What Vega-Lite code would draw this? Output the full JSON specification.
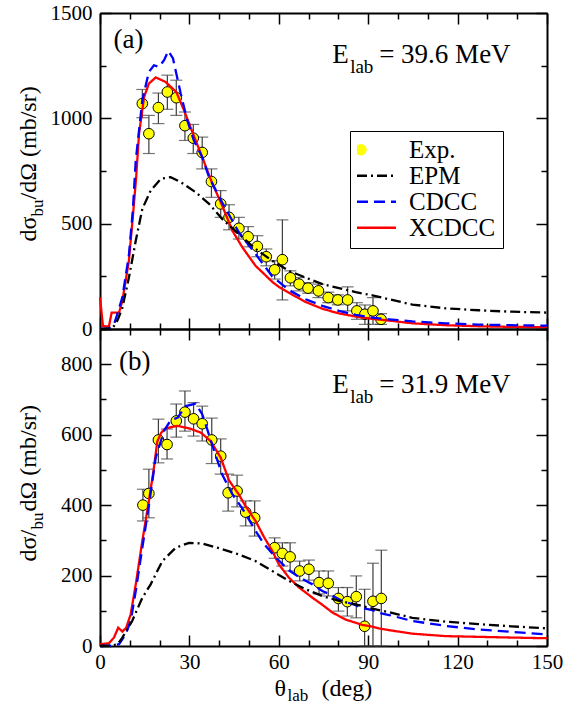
{
  "$schema": "https://vega.github.io/schema/vega-lite/v6.json",
  "padding": {"left": 16, "top": 2, "right": 0, "bottom": 0},
  "autosize": {"type": "pad"},
  "spacing": 0,
  "bounds": "flush",
  "resolve": {
    "scale": {"x": "independent", "y": "independent", "color": "independent", "strokeDash": "independent"},
    "axis": {"x": "independent", "y": "independent"},
    "legend": {"color": "independent", "strokeDash": "independent"}
  },
  "datasets": {
    "expA": [
      {"t": 14.2, "v": 1070, "lo": 1003, "hi": 1137},
      {"t": 16.4, "v": 927, "lo": 833, "hi": 1014},
      {"t": 19.6, "v": 1051, "lo": 975, "hi": 1120},
      {"t": 22.6, "v": 1125, "lo": 1043, "hi": 1205},
      {"t": 25.6, "v": 1098, "lo": 1014, "hi": 1181},
      {"t": 28.5, "v": 965, "lo": 895, "hi": 1030},
      {"t": 31.3, "v": 906, "lo": 833, "hi": 971},
      {"t": 34.3, "v": 838, "lo": 760, "hi": 911},
      {"t": 37.4, "v": 700, "lo": 625, "hi": 760},
      {"t": 40.5, "v": 594, "lo": 530, "hi": 657},
      {"t": 43.3, "v": 530, "lo": 471, "hi": 590},
      {"t": 46.6, "v": 478, "lo": 427, "hi": 530},
      {"t": 49.7, "v": 438, "lo": 390, "hi": 486},
      {"t": 52.8, "v": 392, "lo": 343, "hi": 443},
      {"t": 55.8, "v": 343, "lo": 300, "hi": 380},
      {"t": 58.6, "v": 281, "lo": 237, "hi": 324},
      {"t": 61.2, "v": 329, "lo": 138, "hi": 518},
      {"t": 63.9, "v": 243, "lo": 205, "hi": 276},
      {"t": 66.8, "v": 213, "lo": 181, "hi": 244},
      {"t": 69.8, "v": 194, "lo": 170, "hi": 220},
      {"t": 73.3, "v": 181, "lo": 149, "hi": 213},
      {"t": 76.6, "v": 149, "lo": 125, "hi": 175},
      {"t": 79.8, "v": 138, "lo": 115, "hi": 162},
      {"t": 83.1, "v": 138, "lo": 86, "hi": 200},
      {"t": 86.2, "v": 86, "lo": 46, "hi": 125},
      {"t": 88.9, "v": 70, "lo": 22, "hi": 114},
      {"t": 91.6, "v": 86, "lo": 22, "hi": 149},
      {"t": 94.3, "v": 46, "lo": 22, "hi": 73}
    ],
    "expB": [
      {"t": 14.4, "v": 400, "lo": 355, "hi": 445},
      {"t": 16.4, "v": 433, "lo": 364, "hi": 502},
      {"t": 19.6, "v": 585, "lo": 520, "hi": 644},
      {"t": 22.5, "v": 572, "lo": 531, "hi": 616},
      {"t": 25.6, "v": 639, "lo": 593, "hi": 687},
      {"t": 28.5, "v": 664, "lo": 610, "hi": 724},
      {"t": 31.4, "v": 645, "lo": 596, "hi": 691},
      {"t": 34.3, "v": 631, "lo": 582, "hi": 681},
      {"t": 37.5, "v": 585, "lo": 518, "hi": 647},
      {"t": 40.5, "v": 539, "lo": 488, "hi": 588},
      {"t": 43.0, "v": 435, "lo": 383, "hi": 488},
      {"t": 46.0, "v": 440, "lo": 395, "hi": 485},
      {"t": 48.9, "v": 380, "lo": 341, "hi": 412},
      {"t": 51.9, "v": 364, "lo": 312, "hi": 412},
      {"t": 58.6, "v": 279, "lo": 249, "hi": 307},
      {"t": 61.2, "v": 263, "lo": 227, "hi": 293},
      {"t": 63.8, "v": 253, "lo": 213, "hi": 293},
      {"t": 67.0, "v": 213, "lo": 185, "hi": 241},
      {"t": 70.1, "v": 218, "lo": 187, "hi": 244},
      {"t": 73.5, "v": 180, "lo": 148, "hi": 213},
      {"t": 76.6, "v": 178, "lo": 142, "hi": 213},
      {"t": 80.0, "v": 135, "lo": 99, "hi": 166},
      {"t": 83.0, "v": 126, "lo": 85, "hi": 166},
      {"t": 86.0, "v": 140, "lo": 80, "hi": 199},
      {"t": 88.8, "v": 56, "lo": 0, "hi": 161},
      {"t": 91.6, "v": 127, "lo": 0, "hi": 235},
      {"t": 94.4, "v": 135, "lo": 0, "hi": 272}
    ],
    "curvesA": [
      {"t": 0, "v": 150, "m": "XCDCC"}, {"t": 1, "v": 14, "m": "XCDCC"}, {"t": 3, "v": 12, "m": "XCDCC"}, {"t": 3.9, "v": 78, "m": "XCDCC"}, {"t": 6.4, "v": 78, "m": "XCDCC"}, {"t": 7.5, "v": 133, "m": "XCDCC"}, {"t": 9.7, "v": 324, "m": "XCDCC"}, {"t": 11, "v": 530, "m": "XCDCC"}, {"t": 12.1, "v": 713, "m": "XCDCC"}, {"t": 13.1, "v": 927, "m": "XCDCC"}, {"t": 14.8, "v": 1101, "m": "XCDCC"}, {"t": 16.4, "v": 1165, "m": "XCDCC"}, {"t": 18.7, "v": 1194, "m": "XCDCC"}, {"t": 22, "v": 1173, "m": "XCDCC"}, {"t": 25.6, "v": 1125, "m": "XCDCC"}, {"t": 28.2, "v": 1038, "m": "XCDCC"}, {"t": 31, "v": 935, "m": "XCDCC"}, {"t": 34.3, "v": 816, "m": "XCDCC"}, {"t": 37.3, "v": 705, "m": "XCDCC"}, {"t": 41, "v": 586, "m": "XCDCC"}, {"t": 44.4, "v": 467, "m": "XCDCC"}, {"t": 47.8, "v": 387, "m": "XCDCC"}, {"t": 52.2, "v": 300, "m": "XCDCC"}, {"t": 57.8, "v": 224, "m": "XCDCC"}, {"t": 60, "v": 200, "m": "XCDCC"}, {"t": 63.4, "v": 172, "m": "XCDCC"}, {"t": 69, "v": 128, "m": "XCDCC"}, {"t": 74.6, "v": 96, "m": "XCDCC"}, {"t": 80.2, "v": 74, "m": "XCDCC"}, {"t": 85.8, "v": 59, "m": "XCDCC"}, {"t": 91.4, "v": 48, "m": "XCDCC"}, {"t": 97, "v": 40, "m": "XCDCC"}, {"t": 104.8, "v": 27, "m": "XCDCC"}, {"t": 116, "v": 18, "m": "XCDCC"}, {"t": 127, "v": 13, "m": "XCDCC"}, {"t": 138, "v": 10, "m": "XCDCC"}, {"t": 150, "v": 9, "m": "XCDCC"},
      {"t": 0, "v": 0, "m": "CDCC"}, {"t": 3, "v": 3, "m": "CDCC"}, {"t": 4.7, "v": 22, "m": "CDCC"}, {"t": 5.8, "v": 70, "m": "CDCC"}, {"t": 7.5, "v": 150, "m": "CDCC"}, {"t": 9.7, "v": 350, "m": "CDCC"}, {"t": 11, "v": 560, "m": "CDCC"}, {"t": 12, "v": 800, "m": "CDCC"}, {"t": 14.2, "v": 1086, "m": "CDCC"}, {"t": 16.4, "v": 1220, "m": "CDCC"}, {"t": 18.1, "v": 1252, "m": "CDCC"}, {"t": 19.8, "v": 1244, "m": "CDCC"}, {"t": 21.5, "v": 1276, "m": "CDCC"}, {"t": 22.9, "v": 1320, "m": "CDCC"}, {"t": 24.5, "v": 1284, "m": "CDCC"}, {"t": 25.6, "v": 1213, "m": "CDCC"}, {"t": 27.1, "v": 1117, "m": "CDCC"}, {"t": 29.3, "v": 990, "m": "CDCC"}, {"t": 31.5, "v": 895, "m": "CDCC"}, {"t": 34.3, "v": 816, "m": "CDCC"}, {"t": 36.6, "v": 720, "m": "CDCC"}, {"t": 41, "v": 600, "m": "CDCC"}, {"t": 46.6, "v": 459, "m": "CDCC"}, {"t": 52.2, "v": 356, "m": "CDCC"}, {"t": 57.8, "v": 250, "m": "CDCC"}, {"t": 63.4, "v": 185, "m": "CDCC"}, {"t": 69, "v": 141, "m": "CDCC"}, {"t": 74.6, "v": 110, "m": "CDCC"}, {"t": 80.2, "v": 86, "m": "CDCC"}, {"t": 85.8, "v": 67, "m": "CDCC"}, {"t": 91.4, "v": 54, "m": "CDCC"}, {"t": 97, "v": 46, "m": "CDCC"}, {"t": 104.8, "v": 36, "m": "CDCC"}, {"t": 116, "v": 27, "m": "CDCC"}, {"t": 127, "v": 21, "m": "CDCC"}, {"t": 138, "v": 18, "m": "CDCC"}, {"t": 150, "v": 16, "m": "CDCC"},
      {"t": 0, "v": 0, "m": "EPM"}, {"t": 4, "v": 3, "m": "EPM"}, {"t": 4.7, "v": 14, "m": "EPM"}, {"t": 6, "v": 45, "m": "EPM"}, {"t": 7.5, "v": 100, "m": "EPM"}, {"t": 9.7, "v": 244, "m": "EPM"}, {"t": 12, "v": 419, "m": "EPM"}, {"t": 14.2, "v": 570, "m": "EPM"}, {"t": 17, "v": 657, "m": "EPM"}, {"t": 20.4, "v": 713, "m": "EPM"}, {"t": 23.7, "v": 721, "m": "EPM"}, {"t": 27.1, "v": 697, "m": "EPM"}, {"t": 32.1, "v": 649, "m": "EPM"}, {"t": 36.6, "v": 594, "m": "EPM"}, {"t": 41, "v": 522, "m": "EPM"}, {"t": 46.6, "v": 451, "m": "EPM"}, {"t": 52.2, "v": 380, "m": "EPM"}, {"t": 57.8, "v": 324, "m": "EPM"}, {"t": 63.4, "v": 276, "m": "EPM"}, {"t": 69, "v": 244, "m": "EPM"}, {"t": 74.6, "v": 213, "m": "EPM"}, {"t": 80.2, "v": 194, "m": "EPM"}, {"t": 85.8, "v": 175, "m": "EPM"}, {"t": 91.4, "v": 160, "m": "EPM"}, {"t": 96.4, "v": 143, "m": "EPM"}, {"t": 104.8, "v": 116, "m": "EPM"}, {"t": 116, "v": 98, "m": "EPM"}, {"t": 127, "v": 89, "m": "EPM"}, {"t": 138, "v": 82, "m": "EPM"}, {"t": 150, "v": 78, "m": "EPM"}
    ],
    "curvesB": [
      {"t": 0, "v": 5, "m": "XCDCC"}, {"t": 3, "v": 8, "m": "XCDCC"}, {"t": 4.7, "v": 24, "m": "XCDCC"}, {"t": 6.1, "v": 52, "m": "XCDCC"}, {"t": 7.5, "v": 41, "m": "XCDCC"}, {"t": 8.8, "v": 52, "m": "XCDCC"}, {"t": 10.3, "v": 90, "m": "XCDCC"}, {"t": 12, "v": 175, "m": "XCDCC"}, {"t": 14.2, "v": 298, "m": "XCDCC"}, {"t": 16.4, "v": 412, "m": "XCDCC"}, {"t": 18, "v": 500, "m": "XCDCC"}, {"t": 19.2, "v": 580, "m": "XCDCC"}, {"t": 20.5, "v": 605, "m": "XCDCC"}, {"t": 22, "v": 618, "m": "XCDCC"}, {"t": 25.9, "v": 625, "m": "XCDCC"}, {"t": 29.9, "v": 618, "m": "XCDCC"}, {"t": 33.8, "v": 606, "m": "XCDCC"}, {"t": 37.1, "v": 582, "m": "XCDCC"}, {"t": 40.5, "v": 535, "m": "XCDCC"}, {"t": 43.3, "v": 470, "m": "XCDCC"}, {"t": 46.6, "v": 430, "m": "XCDCC"}, {"t": 49, "v": 395, "m": "XCDCC"}, {"t": 52.2, "v": 355, "m": "XCDCC"}, {"t": 55, "v": 310, "m": "XCDCC"}, {"t": 57.8, "v": 270, "m": "XCDCC"}, {"t": 60, "v": 232, "m": "XCDCC"}, {"t": 63.4, "v": 194, "m": "XCDCC"}, {"t": 66.8, "v": 166, "m": "XCDCC"}, {"t": 69, "v": 152, "m": "XCDCC"}, {"t": 71.3, "v": 137, "m": "XCDCC"}, {"t": 74.6, "v": 117, "m": "XCDCC"}, {"t": 78, "v": 95, "m": "XCDCC"}, {"t": 80.2, "v": 85, "m": "XCDCC"}, {"t": 82.4, "v": 75, "m": "XCDCC"}, {"t": 85.8, "v": 66, "m": "XCDCC"}, {"t": 88, "v": 60, "m": "XCDCC"}, {"t": 91.4, "v": 55, "m": "XCDCC"}, {"t": 93.6, "v": 50, "m": "XCDCC"}, {"t": 97, "v": 45, "m": "XCDCC"}, {"t": 104.8, "v": 35, "m": "XCDCC"}, {"t": 116, "v": 28, "m": "XCDCC"}, {"t": 127, "v": 26, "m": "XCDCC"}, {"t": 138, "v": 24, "m": "XCDCC"}, {"t": 150, "v": 22, "m": "XCDCC"},
      {"t": 0, "v": 0, "m": "CDCC"}, {"t": 4, "v": 1, "m": "CDCC"}, {"t": 6.4, "v": 5, "m": "CDCC"}, {"t": 8.6, "v": 33, "m": "CDCC"}, {"t": 10.3, "v": 71, "m": "CDCC"}, {"t": 12, "v": 156, "m": "CDCC"}, {"t": 14.2, "v": 279, "m": "CDCC"}, {"t": 16.3, "v": 393, "m": "CDCC"}, {"t": 18.7, "v": 535, "m": "CDCC"}, {"t": 21.5, "v": 611, "m": "CDCC"}, {"t": 23.7, "v": 641, "m": "CDCC"}, {"t": 26, "v": 648, "m": "CDCC"}, {"t": 28.8, "v": 681, "m": "CDCC"}, {"t": 32.1, "v": 688, "m": "CDCC"}, {"t": 34.3, "v": 658, "m": "CDCC"}, {"t": 36, "v": 615, "m": "CDCC"}, {"t": 38.3, "v": 554, "m": "CDCC"}, {"t": 41, "v": 487, "m": "CDCC"}, {"t": 44.4, "v": 431, "m": "CDCC"}, {"t": 47.8, "v": 390, "m": "CDCC"}, {"t": 52.2, "v": 327, "m": "CDCC"}, {"t": 55, "v": 290, "m": "CDCC"}, {"t": 59, "v": 251, "m": "CDCC"}, {"t": 63.4, "v": 215, "m": "CDCC"}, {"t": 66, "v": 200, "m": "CDCC"}, {"t": 69, "v": 185, "m": "CDCC"}, {"t": 71.3, "v": 175, "m": "CDCC"}, {"t": 74.6, "v": 156, "m": "CDCC"}, {"t": 76.8, "v": 148, "m": "CDCC"}, {"t": 81.3, "v": 128, "m": "CDCC"}, {"t": 85.8, "v": 116, "m": "CDCC"}, {"t": 88, "v": 108, "m": "CDCC"}, {"t": 91.4, "v": 102, "m": "CDCC"}, {"t": 93.6, "v": 94, "m": "CDCC"}, {"t": 97, "v": 88, "m": "CDCC"}, {"t": 104.8, "v": 71, "m": "CDCC"}, {"t": 116, "v": 57, "m": "CDCC"}, {"t": 127, "v": 47, "m": "CDCC"}, {"t": 138, "v": 40, "m": "CDCC"}, {"t": 150, "v": 33, "m": "CDCC"},
      {"t": 0, "v": 0, "m": "EPM"}, {"t": 4, "v": 1, "m": "EPM"}, {"t": 6, "v": 6, "m": "EPM"}, {"t": 7.5, "v": 24, "m": "EPM"}, {"t": 10.8, "v": 71, "m": "EPM"}, {"t": 14.2, "v": 137, "m": "EPM"}, {"t": 17, "v": 175, "m": "EPM"}, {"t": 20.9, "v": 241, "m": "EPM"}, {"t": 25.4, "v": 279, "m": "EPM"}, {"t": 29.9, "v": 293, "m": "EPM"}, {"t": 34.3, "v": 291, "m": "EPM"}, {"t": 41, "v": 275, "m": "EPM"}, {"t": 46.6, "v": 260, "m": "EPM"}, {"t": 52.2, "v": 241, "m": "EPM"}, {"t": 57.8, "v": 213, "m": "EPM"}, {"t": 63.4, "v": 185, "m": "EPM"}, {"t": 69, "v": 161, "m": "EPM"}, {"t": 74.6, "v": 142, "m": "EPM"}, {"t": 80.2, "v": 128, "m": "EPM"}, {"t": 85.8, "v": 118, "m": "EPM"}, {"t": 91.4, "v": 106, "m": "EPM"}, {"t": 97, "v": 96, "m": "EPM"}, {"t": 104.8, "v": 80, "m": "EPM"}, {"t": 116, "v": 69, "m": "EPM"}, {"t": 127, "v": 62, "m": "EPM"}, {"t": 138, "v": 56, "m": "EPM"}, {"t": 150, "v": 50, "m": "EPM"}
    ]
  },
  "vconcat": [
    {
      "width": 447,
      "height": 316,
      "resolve": {"axis": {"x": "independent", "y": "independent"}},
      "layer": [
        {
          "data": {"name": "expA"},
          "mark": {"type": "errorbar", "ticks": true, "size": 12, "thickness": 1.2, "color": "#3c3c3c"},
          "encoding": {
            "x": {"field": "t", "type": "quantitative", "scale": {"domain": [0, 150], "nice": false}, "axis": null},
            "y": {"field": "lo", "type": "quantitative", "scale": {"domain": [0, 1500], "nice": false}, "axis": null},
            "y2": {"field": "hi"}
          }
        },
        {
          "data": {"name": "expA"},
          "mark": {"type": "point", "shape": "circle", "filled": true, "fill": "#ffff00", "stroke": "black", "strokeWidth": 1, "size": 113, "opacity": 1},
          "encoding": {
            "x": {"field": "t", "type": "quantitative", "scale": {"domain": [0, 150], "nice": false},
                  "axis": {"orient": "top", "values": [0,10,20,30,40,50,60,70,80,90,100,110,120,130,140,150], "labels": false, "title": null,
                           "tickSize": {"condition": {"test": "datum.value % 30 === 0", "value": -11}, "value": -6}}},
            "y": {"field": "v", "type": "quantitative", "scale": {"domain": [0, 1500], "nice": false},
                  "axis": {"orient": "right", "values": [0,250,500,750,1000,1250,1500], "labels": false, "title": null,
                           "tickSize": {"condition": {"test": "datum.value % 500 === 0", "value": -11}, "value": -6}}}
          }
        },
        {
          "data": {"name": "curvesA"},
          "mark": {"type": "line", "strokeWidth": 2.3},
          "encoding": {
            "x": {"field": "t", "type": "quantitative", "scale": {"domain": [0, 150], "nice": false},
                  "axis": {"orient": "bottom", "values": [0,10,20,30,40,50,60,70,80,90,100,110,120,130,140,150], "labels": false, "title": null,
                           "tickSize": {"condition": {"test": "datum.value % 30 === 0", "value": -11}, "value": -6}}},
            "y": {"field": "v", "type": "quantitative", "scale": {"domain": [0, 1500], "nice": false},
                  "axis": {"orient": "left", "values": [0,250,500,750,1000,1250,1500], "format": "d",
                           "labelExpr": "datum.value % 500 === 0 ? datum.label : ''", "labelOverlap": false, "labelPadding": 19,
                           "tickSize": {"condition": {"test": "datum.value % 500 === 0", "value": -11}, "value": -6},
                           "title": "dσ", "titleX": -65, "titleY": 228, "titleAngle": 270, "titleAlign": "left", "titleBaseline": "alphabetic", "titleFontSize": 24}},
            "color": {"field": "m", "type": "nominal",
                      "scale": {"domain": ["Exp.", "EPM", "CDCC", "XCDCC"], "range": ["#ffff00", "#000000", "#0000ff", "#ff0000"]},
                      "legend": {"orient": "none", "legendX": 250, "legendY": 118, "direction": "vertical", "title": null,
                                 "symbolType": "stroke", "symbolSize": 1521, "clipHeight": 23.5, "rowPadding": 0,
                                 "labelFont": "Liberation Serif", "labelFontSize": 25, "labelColor": "black", "labelOffset": 27, "labelLimit": 0,
                                 "padding": 7, "strokeColor": "black", "fillColor": "white",
                                 "encode": {"symbols": {"update": {
                                   "x": {"signal": "datum.value === 'Exp.' ? 4 : 19.5"},
                                   "shape": {"signal": "datum.value === 'Exp.' ? 'circle' : 'stroke'"},
                                   "size": {"signal": "datum.value === 'Exp.' ? 113 : 1521"},
                                   "fill": {"signal": "datum.value === 'Exp.' ? '#ffff00' : 'transparent'"},
                                   "stroke": {"signal": "datum.value === 'CDCC' ? '#0000ff' : datum.value === 'XCDCC' ? '#ff0000' : '#000000'"},
                                   "strokeWidth": {"signal": "datum.value === 'Exp.' ? 1 : 2.3"},
                                   "strokeDash": {"signal": "datum.value === 'EPM' ? [10,4,2,4] : datum.value === 'CDCC' ? [11,6] : [1,0]"},
                                   "opacity": {"value": 1}
                                 }}}}},
            "strokeDash": {"field": "m", "type": "nominal",
                           "scale": {"domain": ["Exp.", "EPM", "CDCC", "XCDCC"], "range": [[1, 0], [10, 4, 2, 4], [11, 6], [1, 0]]},
                           "legend": null}
          }
        },
        {
          "data": {"name": "expA"},
          "mark": {"type": "point", "opacity": 0},
          "encoding": {
            "x": {"field": "t", "type": "quantitative", "scale": {"domain": [0, 150], "nice": false}, "axis": null},
            "y": {"field": "v", "type": "quantitative", "scale": {"domain": [0, 1500], "nice": false},
                  "axis": {"orient": "left", "ticks": false, "labels": false, "domain": false, "title": "bu",
                           "titleX": -58, "titleY": 203, "titleAngle": 270, "titleAlign": "left", "titleBaseline": "alphabetic", "titleFontSize": 17}}
          }
        },
        {
          "data": {"name": "expA"},
          "mark": {"type": "point", "opacity": 0},
          "encoding": {
            "x": {"field": "t", "type": "quantitative", "scale": {"domain": [0, 150], "nice": false}, "axis": null},
            "y": {"field": "v", "type": "quantitative", "scale": {"domain": [0, 1500], "nice": false},
                  "axis": {"orient": "left", "ticks": false, "labels": false, "domain": false, "title": "/dΩ (mb/sr)",
                           "titleX": -65, "titleY": 186, "titleAngle": 270, "titleAlign": "left", "titleBaseline": "alphabetic", "titleFontSize": 24}}
          }
        },
        {
          "data": {"values": [{}]},
          "mark": {"type": "text", "text": "(a)", "align": "left", "baseline": "alphabetic", "fontSize": 27, "font": "Liberation Serif", "color": "black"},
          "encoding": {
            "x": {"datum": 4.5, "type": "quantitative", "scale": {"domain": [0, 150], "nice": false}, "axis": null},
            "y": {"datum": 1332, "type": "quantitative", "scale": {"domain": [0, 1500], "nice": false}, "axis": null}
          }
        },
        {
          "data": {"values": [{}]},
          "mark": {"type": "text", "text": "E", "align": "left", "baseline": "alphabetic", "fontSize": 27, "font": "Liberation Serif", "color": "black"},
          "encoding": {
            "x": {"datum": 77.9, "type": "quantitative", "scale": {"domain": [0, 150], "nice": false}, "axis": null},
            "y": {"datum": 1263, "type": "quantitative", "scale": {"domain": [0, 1500], "nice": false}, "axis": null}
          }
        },
        {
          "data": {"values": [{}]},
          "mark": {"type": "text", "text": "lab", "align": "left", "baseline": "alphabetic", "fontSize": 19, "dx": 18, "dy": 10, "font": "Liberation Serif", "color": "black"},
          "encoding": {
            "x": {"datum": 77.9, "type": "quantitative", "scale": {"domain": [0, 150], "nice": false}, "axis": null},
            "y": {"datum": 1263, "type": "quantitative", "scale": {"domain": [0, 1500], "nice": false}, "axis": null}
          }
        },
        {
          "data": {"values": [{}]},
          "mark": {"type": "text", "text": "= 39.6 MeV", "align": "left", "baseline": "alphabetic", "fontSize": 27, "dx": 47, "font": "Liberation Serif", "color": "black"},
          "encoding": {
            "x": {"datum": 77.9, "type": "quantitative", "scale": {"domain": [0, 150], "nice": false}, "axis": null},
            "y": {"datum": 1263, "type": "quantitative", "scale": {"domain": [0, 1500], "nice": false}, "axis": null}
          }
        }
      ]
    },
    {
      "width": 447,
      "height": 317,
      "resolve": {"axis": {"x": "independent", "y": "independent"}},
      "layer": [
        {
          "data": {"name": "expB"},
          "mark": {"type": "errorbar", "ticks": true, "size": 12, "thickness": 1.2, "color": "#3c3c3c"},
          "encoding": {
            "x": {"field": "t", "type": "quantitative", "scale": {"domain": [0, 150], "nice": false}, "axis": null},
            "y": {"field": "lo", "type": "quantitative", "scale": {"domain": [0, 900], "nice": false}, "axis": null},
            "y2": {"field": "hi"}
          }
        },
        {
          "data": {"name": "expB"},
          "mark": {"type": "point", "shape": "circle", "filled": true, "fill": "#ffff00", "stroke": "black", "strokeWidth": 1, "size": 113, "opacity": 1},
          "encoding": {
            "x": {"field": "t", "type": "quantitative", "scale": {"domain": [0, 150], "nice": false},
                  "axis": {"orient": "top", "values": [0,10,20,30,40,50,60,70,80,90,100,110,120,130,140,150], "labels": false, "title": null,
                           "tickSize": {"condition": {"test": "datum.value % 30 === 0", "value": -11}, "value": -6}}},
            "y": {"field": "v", "type": "quantitative", "scale": {"domain": [0, 900], "nice": false},
                  "axis": {"orient": "right", "values": [0,100,200,300,400,500,600,700,800,900], "labels": false, "title": null,
                           "tickSize": {"condition": {"test": "datum.value % 200 === 0", "value": -11}, "value": -6}}}
          }
        },
        {
          "data": {"name": "curvesB"},
          "mark": {"type": "line", "strokeWidth": 2.3},
          "encoding": {
            "x": {"field": "t", "type": "quantitative", "scale": {"domain": [0, 150], "nice": false},
                  "axis": {"orient": "bottom", "values": [0,10,20,30,40,50,60,70,80,90,100,110,120,130,140,150], "format": "d",
                           "labelExpr": "datum.value % 30 === 0 ? datum.label : ''", "labelFlush": false, "labelOverlap": false, "labelPadding": 16,
                           "tickSize": {"condition": {"test": "datum.value % 30 === 0", "value": -11}, "value": -6},
                           "title": "θ", "titleX": 174, "titleY": 49, "titleAngle": 0, "titleAlign": "left", "titleBaseline": "alphabetic", "titleFontSize": 24}},
            "y": {"field": "v", "type": "quantitative", "scale": {"domain": [0, 900], "nice": false},
                  "axis": {"orient": "left", "values": [0,100,200,300,400,500,600,700,800,900], "format": "d",
                           "labelExpr": "datum.value % 200 === 0 && datum.value < 900 ? datum.label : ''", "labelOverlap": false, "labelPadding": 19,
                           "tickSize": {"condition": {"test": "datum.value % 200 === 0", "value": -11}, "value": -6},
                           "title": "dσ/", "titleX": -65, "titleY": 232, "titleAngle": 270, "titleAlign": "left", "titleBaseline": "alphabetic", "titleFontSize": 24}},
            "color": {"field": "m", "type": "nominal",
                      "scale": {"domain": ["Exp.", "EPM", "CDCC", "XCDCC"], "range": ["#ffff00", "#000000", "#0000ff", "#ff0000"]},
                      "legend": null},
            "strokeDash": {"field": "m", "type": "nominal",
                           "scale": {"domain": ["Exp.", "EPM", "CDCC", "XCDCC"], "range": [[1, 0], [10, 4, 2, 4], [11, 6], [1, 0]]},
                           "legend": null}
          }
        },
        {
          "data": {"name": "expB"},
          "mark": {"type": "point", "opacity": 0},
          "encoding": {
            "x": {"field": "t", "type": "quantitative", "scale": {"domain": [0, 150], "nice": false},
                  "axis": {"orient": "bottom", "ticks": false, "labels": false, "domain": false, "title": "lab",
                           "titleX": 187, "titleY": 54, "titleAngle": 0, "titleAlign": "left", "titleBaseline": "alphabetic", "titleFontSize": 17}},
            "y": {"field": "v", "type": "quantitative", "scale": {"domain": [0, 900], "nice": false},
                  "axis": {"orient": "left", "ticks": false, "labels": false, "domain": false, "title": "bu",
                           "titleX": -58, "titleY": 200, "titleAngle": 270, "titleAlign": "left", "titleBaseline": "alphabetic", "titleFontSize": 17}}
          }
        },
        {
          "data": {"name": "expB"},
          "mark": {"type": "point", "opacity": 0},
          "encoding": {
            "x": {"field": "t", "type": "quantitative", "scale": {"domain": [0, 150], "nice": false},
                  "axis": {"orient": "bottom", "ticks": false, "labels": false, "domain": false, "title": "(deg)",
                           "titleX": 221, "titleY": 49, "titleAngle": 0, "titleAlign": "left", "titleBaseline": "alphabetic", "titleFontSize": 24}},
            "y": {"field": "v", "type": "quantitative", "scale": {"domain": [0, 900], "nice": false},
                  "axis": {"orient": "left", "ticks": false, "labels": false, "domain": false, "title": "dΩ (mb/sr)",
                           "titleX": -65, "titleY": 182, "titleAngle": 270, "titleAlign": "left", "titleBaseline": "alphabetic", "titleFontSize": 24}}
          }
        },
        {
          "data": {"values": [{}]},
          "mark": {"type": "text", "text": "(b)", "align": "left", "baseline": "alphabetic", "fontSize": 27, "font": "Liberation Serif", "color": "black"},
          "encoding": {
            "x": {"datum": 6.4, "type": "quantitative", "scale": {"domain": [0, 150], "nice": false}, "axis": null},
            "y": {"datum": 783, "type": "quantitative", "scale": {"domain": [0, 900], "nice": false}, "axis": null}
          }
        },
        {
          "data": {"values": [{}]},
          "mark": {"type": "text", "text": "E", "align": "left", "baseline": "alphabetic", "fontSize": 27, "font": "Liberation Serif", "color": "black"},
          "encoding": {
            "x": {"datum": 77.9, "type": "quantitative", "scale": {"domain": [0, 150], "nice": false}, "axis": null},
            "y": {"datum": 719, "type": "quantitative", "scale": {"domain": [0, 900], "nice": false}, "axis": null}
          }
        },
        {
          "data": {"values": [{}]},
          "mark": {"type": "text", "text": "lab", "align": "left", "baseline": "alphabetic", "fontSize": 19, "dx": 18, "dy": 10, "font": "Liberation Serif", "color": "black"},
          "encoding": {
            "x": {"datum": 77.9, "type": "quantitative", "scale": {"domain": [0, 150], "nice": false}, "axis": null},
            "y": {"datum": 719, "type": "quantitative", "scale": {"domain": [0, 900], "nice": false}, "axis": null}
          }
        },
        {
          "data": {"values": [{}]},
          "mark": {"type": "text", "text": "= 31.9 MeV", "align": "left", "baseline": "alphabetic", "fontSize": 27, "dx": 47, "font": "Liberation Serif", "color": "black"},
          "encoding": {
            "x": {"datum": 77.9, "type": "quantitative", "scale": {"domain": [0, 150], "nice": false}, "axis": null},
            "y": {"datum": 719, "type": "quantitative", "scale": {"domain": [0, 900], "nice": false}, "axis": null}
          }
        }
      ]
    }
  ],
  "config": {
    "font": "Liberation Serif",
    "view": {"stroke": null},
    "axis": {
      "domainColor": "black", "domainWidth": 2, "tickColor": "black", "tickWidth": 1.5, "grid": false,
      "labelFont": "Liberation Serif", "labelFontSize": 21, "labelColor": "black",
      "titleFont": "Liberation Serif", "titleFontWeight": "normal", "titleColor": "black"
    },
    "legend": {"labelFont": "Liberation Serif"}
  }
}
